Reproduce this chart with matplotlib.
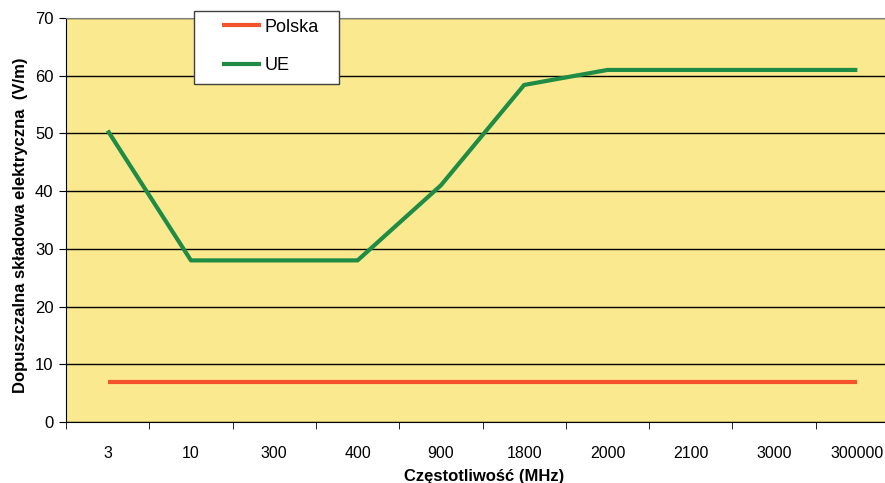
import matplotlib
matplotlib.use("Agg")
import matplotlib.pyplot as plt
from matplotlib import font_manager
from matplotlib.patches import Rectangle

categories = ["3", "10", "300", "400", "900", "1800", "2000", "2100", "3000", "300000"]
polska = [7, 7, 7, 7, 7, 7, 7, 7, 7, 7]
ue = [50.5, 28, 28, 28, 41, 58.4, 61, 61, 61, 61]
yticks = [0, 10, 20, 30, 40, 50, 60, 70]

names = {f.name for f in font_manager.fontManager.ttflist}
tick_font = "Liberation Sans Narrow" if "Liberation Sans Narrow" in names else "Liberation Sans"
plt.rcParams['font.family'] = ['Liberation Sans', 'DejaVu Sans']

W, H = 885, 483
fig = plt.figure(figsize=(W/100, H/100), dpi=100)
ax = fig.add_axes([66/W, 1-422/H, 833/W, 404/H])
ax.set_facecolor("#FBE98F")

x = list(range(len(categories)))
ax.plot(x, polska, color="#F5532B", lw=3, label="Polska", solid_capstyle="butt", zorder=3)
ax.plot(x, ue, color="#1E8C45", lw=3, label="UE", solid_capstyle="butt", zorder=3)

ax.set_xlim(-0.5, len(categories) - 0.5)
ax.set_ylim(0, 70)
ax.set_yticks(yticks)
ax.set_yticklabels([str(v) for v in yticks], fontsize=12)
ax.set_xticks(x)
ax.set_xticklabels(categories, fontsize=11.5, family=[tick_font, 'DejaVu Sans'])
ax.set_xticks([i - 0.5 for i in range(len(categories) + 1)], minor=True)
ax.tick_params(axis='x', which='major', length=0, pad=17)
ax.tick_params(axis='x', which='minor', length=5, direction='out', color='black')
ax.tick_params(axis='y', length=5, direction='out', pad=4)
ax.grid(axis='y', color='black', lw=1)
ax.set_axisbelow(True)

for s in ['top', 'right']:
    ax.spines[s].set_color('#808080')
for s in ['left', 'bottom']:
    ax.spines[s].set_color('black')

ax.set_ylabel("Dopuszczalna składowa elektryczna  (V/m)", fontsize=12, fontweight='bold')
ax.yaxis.set_label_coords((28-66)/833, 0.486)
ax.set_xlabel("Częstotliwość (MHz)", fontsize=12, fontweight='bold')
ax.xaxis.set_label_coords((484-66)/833, (422-469)/404)

# legend frame box
fig.patches.append(Rectangle((194/W, 1-84/H), 145/W, 73/H, transform=fig.transFigure,
                             facecolor='white', edgecolor='#404040', lw=1, zorder=9))
leg = fig.legend(loc='upper left', bbox_to_anchor=(218/W, 1-15/H), fontsize=13,
                 frameon=False, handlelength=2.2, handletextpad=0.2, labelspacing=1.2,
                 borderpad=0.2, borderaxespad=0)
leg.set_zorder(10)

fig.savefig("out.png", dpi=100)
